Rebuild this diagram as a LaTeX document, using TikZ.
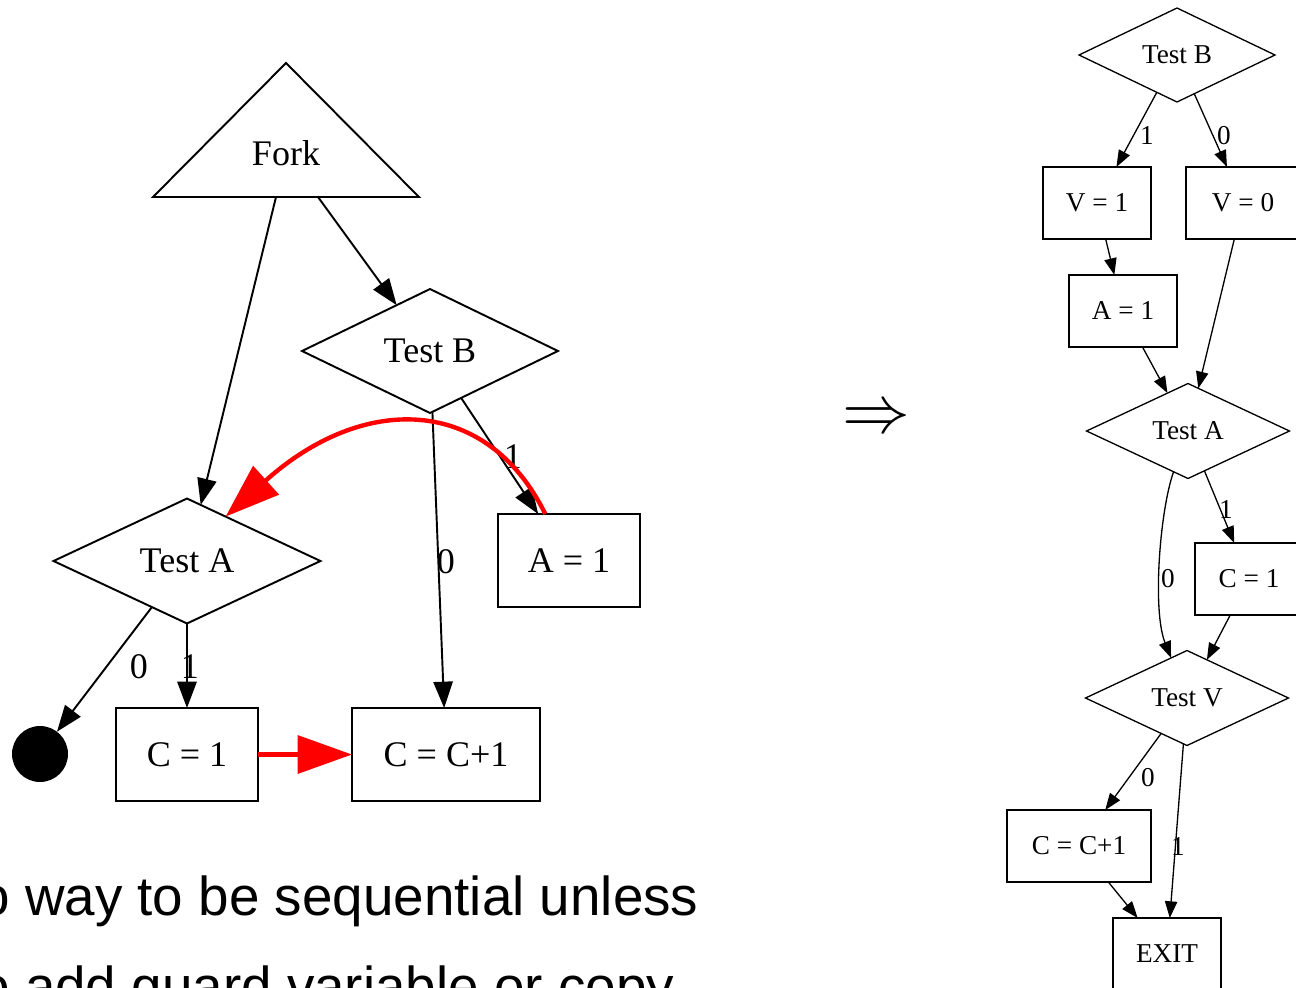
\documentclass[tikz,border=0pt]{standalone}
\usepackage{fontspec}
\setmainfont{Liberation Serif}
\newfontfamily\slidefont{Liberation Sans}
\usetikzlibrary{shapes.geometric,arrows.meta}

\begin{document}
\begin{tikzpicture}[x=0.02cm,y=-0.02cm,
  % left graph (large)
  lfont/.style={font=\fontsize{20.5}{24}\selectfont},
  lbox/.style={draw, rectangle, line width=1.1pt, inner sep=0pt, outer sep=0pt,
    minimum width=2.84cm, minimum height=1.86cm, lfont},
  ldia/.style={draw, diamond, line width=1.1pt, inner sep=0pt, outer sep=0pt, lfont},
  ledge/.style={line width=1.1pt, -{Triangle[length=15pt,width=11pt]}},
  llbl/.style={inner sep=0pt, lfont},
  redge/.style={red, line width=2.5pt, -{Triangle[length=31pt,width=21.5pt]}},
  % right graph (small)
  sfont/.style={font=\fontsize{15.5}{18}\selectfont},
  sbox/.style={draw, rectangle, line width=0.75pt, inner sep=0pt, outer sep=0pt,
    minimum width=2.16cm, minimum height=1.44cm, sfont},
  sdia/.style={draw, diamond, line width=0.75pt, inner sep=0pt, outer sep=0pt, sfont},
  sedge/.style={line width=0.75pt, -{Triangle[length=9.5pt,width=7pt]}},
  slbl/.style={inner sep=0pt, sfont},
  slide/.style={inner sep=0pt, font=\slidefont\fontsize{31.2}{38}\selectfont}
]
\useasboundingbox (0,0) rectangle (1296,988);
\clip (0,0) rectangle (1296,988);

% ---------- left: forked control flow ----------
\coordinate (forkTop) at (286,63);
\coordinate (forkR) at (419,197);
\coordinate (forkL) at (153,197);
\draw[line width=1.1pt, line join=miter] (forkTop) -- (forkR) -- (forkL) -- cycle;
\node[llbl] (lFork) at (286,153) {Fork};
\coordinate (forkOutA) at (276,197);
\coordinate (forkOutB) at (318,197);

\node[ldia, minimum width=5.12cm, minimum height=2.48cm] (lTestB) at (430,351) {Test B};
\node[ldia, minimum width=5.34cm, minimum height=2.5cm] (lTestA) at (187,561) {Test A};
\node[lbox] (lA1) at (569,560.5) {A = 1};
\node[lbox] (lC1) at (187,754.5) {C = 1};
\node[lbox, minimum width=3.76cm] (lCC) at (446,754.5) {C = C+1};
\node[circle, fill, inner sep=0pt, outer sep=0pt, minimum size=1.12cm] (lEnd) at (40,754) {};

\draw[ledge] (forkOutA) -- (lTestA);
\draw[ledge] (forkOutB) -- (lTestB);
\draw[ledge] (lTestB) -- (lA1);
\draw[ledge] (lTestB) -- (lCC);
\draw[ledge] (lTestA) -- (lEnd);
\draw[ledge] (lTestA) -- (lC1);

\node[llbl] (lLbl1) at (513,457) {1};
\node[llbl] (lLbl2) at (446,562) {0};
\node[llbl] (lLbl3) at (139,667) {0};
\node[llbl] (lLbl4) at (190,667) {1};

\draw[redge] (lC1) -- (lCC);
\draw[redge] (lA1.117) .. controls (486,394) and (362,394) .. (lTestA.49);

% ---------- transformation arrow ----------
\node[inner sep=0pt, scale=1.55] (impl) at (876,420) {\fontsize{24.88}{30}\selectfont$\Rightarrow$};

% ---------- right: sequentialised control flow ----------
\node[sdia, minimum width=3.92cm, minimum height=1.88cm] (rTestB) at (1177,55) {Test B};
\node[sbox] (rV1) at (1097,203) {V = 1};
\node[sbox, minimum width=2.28cm] (rV0) at (1243,203) {V = 0};
\node[sbox] (rA1) at (1123,311) {A = 1};
\node[sdia, minimum width=4.06cm, minimum height=1.9cm] (rTestA) at (1188,431) {Test A};
\node[sbox] (rC1) at (1249,579) {C = 1};
\node[sdia, minimum width=4.06cm, minimum height=1.9cm] (rTestV) at (1187,698) {Test V};
\node[sbox, minimum width=2.88cm] (rCC) at (1079,846) {C = C+1};
\node[sbox] (rExit) at (1167,954) {EXIT};

\draw[sedge] (rTestB) -- (rV1);
\draw[sedge] (rTestB) -- (rV0);
\draw[sedge] (rV1) -- (rA1);
\draw[sedge] (rA1) -- (rTestA);
\draw[sedge] (rV0) -- (rTestA);
\draw[sedge] (rTestA) .. controls (1160,510) and (1152,610) .. (rTestV);
\draw[sedge] (rTestA) -- (rC1);
\draw[sedge] (rC1) -- (rTestV);
\draw[sedge] (rTestV) -- (rCC);
\draw[sedge] (rTestV) -- (rExit);
\draw[sedge] (rCC) -- (rExit);

\node[slbl] (rLbl1) at (1147,136) {1};
\node[slbl] (rLbl2) at (1224,136) {0};
\node[slbl] (rLbl3) at (1226,510) {1};
\node[slbl] (rLbl4) at (1168,579) {0};
\node[slbl] (rLbl5) at (1148,778) {0};
\node[slbl] (rLbl6) at (1178,846) {1};

% ---------- slide text ----------
\node[slide, anchor=base west] (line1) at (-21,915) {o way to be sequential unless};
\node[slide, anchor=base west] (line2) at (-21,1005) {o add guard variable or copy};
\end{tikzpicture}
\end{document}
